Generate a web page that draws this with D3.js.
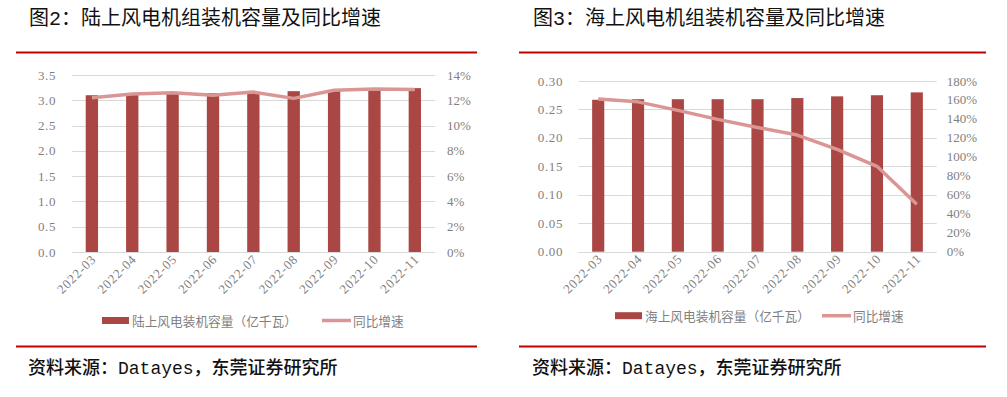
<!DOCTYPE html>
<html>
<head>
<meta charset="utf-8">
<script src="https://cdn.jsdelivr.net/npm/d3@7"></script>
<style>
  body { margin: 0; background: #fff; }
  svg { display: block; }
  .tick-txt { font-family: "Liberation Serif", serif; font-size: 13px; fill: #7f7f7f; }
  .legend-txt { font-family: "Noto Sans CJK SC", sans-serif; font-size: 12.7px; fill: #7f7f7f; }
  .title-txt { font-family: "Liberation Mono", "Noto Sans CJK SC", sans-serif; font-size: 20px; fill: #111; }
  .source-txt { font-family: "Liberation Mono", "Noto Sans CJK SC", sans-serif; font-size: 18px; font-weight: 500; fill: #111; }
</style>
</head>
<body>
<svg id="chart" width="1007" height="397"></svg>
<script>
// months shared by both charts
var months = ['2022-03', '2022-04', '2022-05', '2022-06', '2022-07', '2022-08', '2022-09', '2022-10', '2022-11'];

// onshore wind installed capacity (100 million kW) and YoY growth (%)
var onshoreCapacity = [3.10, 3.12, 3.13, 3.14, 3.15, 3.18, 3.20, 3.22, 3.24];
var onshoreGrowth = [12.2, 12.5, 12.6, 12.4, 12.65, 12.15, 12.8, 12.9, 12.85];
var onshoreLeftTicks = [0, 0.5, 1.0, 1.5, 2.0, 2.5, 3.0, 3.5];
var onshoreRightTicks = [0, 2, 4, 6, 8, 10, 12, 14];

// offshore wind installed capacity and YoY growth (%)
var offshoreCapacity = [0.267, 0.268, 0.268, 0.268, 0.268, 0.270, 0.273, 0.275, 0.280];
var offshoreGrowth = [161, 158, 149, 139.5, 131, 123, 108, 90, 50];
var offshoreLeftTicks = [0, 0.05, 0.10, 0.15, 0.20, 0.25, 0.30];
var offshoreRightTicks = [0, 20, 40, 60, 80, 100, 120, 140, 160, 180];

var barColor = '#AA4643';
var lineColor = '#D99694';
var gridColor = '#D9D9D9';
var redRule = '#C00000';

var svg = d3.select('#chart');

function drawPanel(p) {
  var g = svg.append('g');

  // title and the red rules above and below
  g.append('text').attr('class', 'title-txt')
    .attr('x', p.titleX).attr('y', 25).text(p.title);
  g.append('line')
    .attr('x1', p.ruleX1).attr('x2', p.ruleX2).attr('y1', 52.5).attr('y2', 52.5)
    .style('stroke', redRule).style('stroke-width', 2);
  g.append('line')
    .attr('x1', p.ruleX1).attr('x2', p.ruleX2).attr('y1', 346.5).attr('y2', 346.5)
    .style('stroke', redRule).style('stroke-width', 2);
  g.append('text').attr('class', 'source-txt')
    .attr('x', p.titleX - 1).attr('y', 374).text('资料来源：Datayes，东莞证券研究所');

  var x = d3.scaleBand().domain(months)
    .range([p.plotX0, p.plotX1])
    .paddingInner(0.695).paddingOuter(0.3475);
  var y = d3.scaleLinear().domain([0, p.leftMax]).range([p.plotBottom, p.plotTop]);
  var y2 = d3.scaleLinear().domain([0, p.rightMax]).range([p.plotBottom, p.plotTop]);

  // gridlines
  g.selectAll('.grid').data(p.leftTicks).enter()
    .append('line')
    .attr('x1', p.plotX0).attr('x2', p.plotX1)
    .attr('y1', function(d) { return Math.round(y(d)) + 0.5; })
    .attr('y2', function(d) { return Math.round(y(d)) + 0.5; })
    .style('stroke', gridColor).style('stroke-width', 1.2);

  // left axis labels
  g.selectAll('.ly').data(p.leftTicks).enter()
    .append('text').attr('class', 'tick-txt')
    .attr('x', p.leftLabelX).attr('y', function(d) { return y(d) + 4.5; })
    .attr('text-anchor', 'end')
    .style('letter-spacing', '0.6px')
    .text(function(d) { return d3.format(p.leftFmt)(d); });

  // right axis labels
  g.selectAll('.ry').data(p.rightTicks).enter()
    .append('text').attr('class', 'tick-txt')
    .attr('x', p.rightLabelX).attr('y', function(d) { return y2(d) + 4.5; })
    .text(function(d) { return d + '%'; });

  // bars
  g.selectAll('.bar').data(p.capacity).enter()
    .append('rect')
    .attr('x', function(d, i) { return x(months[i]); })
    .attr('width', x.bandwidth())
    .attr('y', function(d) { return y(d); })
    .attr('height', function(d) { return p.plotBottom - y(d); })
    .style('fill', barColor);

  // growth line
  var line = d3.line()
    .x(function(d, i) { return x(months[i]) + x.bandwidth() / 2; })
    .y(function(d) { return y2(d); });
  g.append('path').datum(p.growth)
    .attr('d', line)
    .style('fill', 'none')
    .style('stroke', lineColor)
    .style('stroke-width', 3.5)
    .style('stroke-linejoin', 'round');

  // rotated month labels
  g.selectAll('.xl').data(months).enter()
    .append('text').attr('class', 'tick-txt')
    .attr('text-anchor', 'end')
    .style('letter-spacing', '0.8px')
    .attr('transform', function(d) {
      return 'translate(' + (x(d) + x.bandwidth() / 2 + 5) + ',' + (p.plotBottom + 8) + ') rotate(-45)';
    })
    .text(function(d) { return d; });

  // legend
  var ly = p.legendY;
  g.append('rect').attr('x', p.legendX).attr('y', ly - 3.5)
    .attr('width', 27).attr('height', 7).style('fill', barColor);
  g.append('text').attr('class', 'legend-txt')
    .attr('x', p.legendX + 30).attr('y', ly + 5).text(p.barLabel);
  g.append('line')
    .attr('x1', p.legendX2).attr('x2', p.legendX2 + 29)
    .attr('y1', ly).attr('y2', ly)
    .style('stroke', lineColor).style('stroke-width', 3.5);
  g.append('text').attr('class', 'legend-txt')
    .attr('x', p.legendX2 + 31).attr('y', ly + 5).text('同比增速');
}

drawPanel({
  title: '图2：陆上风电机组装机容量及同比增速',
  titleX: 29, ruleX1: 16, ruleX2: 477,
  plotX0: 71.7, plotX1: 435, plotTop: 75, plotBottom: 252,
  leftMax: 3.5, rightMax: 14, leftFmt: '.1f',
  leftTicks: onshoreLeftTicks, rightTicks: onshoreRightTicks,
  leftLabelX: 56, rightLabelX: 447,
  capacity: onshoreCapacity, growth: onshoreGrowth,
  legendX: 102, legendX2: 322, legendY: 320.5,
  barLabel: '陆上风电装机容量（亿千瓦）'
});

drawPanel({
  title: '图3：海上风电机组装机容量及同比增速',
  titleX: 533, ruleX1: 519, ruleX2: 986,
  plotX0: 578.3, plotX1: 936.7, plotTop: 81, plotBottom: 251.7,
  leftMax: 0.30, rightMax: 180, leftFmt: '.2f',
  leftTicks: offshoreLeftTicks, rightTicks: offshoreRightTicks,
  leftLabelX: 563, rightLabelX: 946.7,
  capacity: offshoreCapacity, growth: offshoreGrowth,
  legendX: 615, legendX2: 822, legendY: 315.7,
  barLabel: '海上风电装机容量（亿千瓦）'
});
</script>
</body>
</html>
